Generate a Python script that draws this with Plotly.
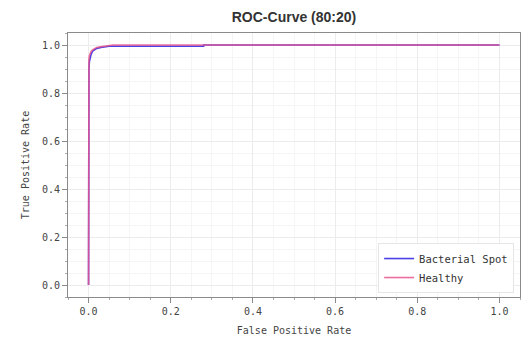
import plotly.graph_objects as go

bs_fpr = [0.0, 0.0, 0.0, 0.001, 0.002, 0.004, 0.006, 0.01, 0.015, 0.02, 0.03, 0.04, 0.05, 0.17, 0.28, 0.28, 1.0]
bs_tpr = [0.0, 0.73, 0.84, 0.90, 0.93, 0.95, 0.96, 0.975, 0.982, 0.986, 0.99, 0.993, 0.995, 0.995, 0.995, 1.0, 1.0]
h_fpr = [0.0, 0.0, 0.0, 0.001, 0.002, 0.004, 0.006, 0.01, 0.015, 0.02, 0.03, 0.04, 0.05, 0.06, 1.0]
h_tpr = [0.0, 0.80, 0.90, 0.94, 0.955, 0.965, 0.972, 0.98, 0.985, 0.99, 0.993, 0.996, 0.998, 1.0, 1.0]

mono = "DejaVu Sans Mono"
W, H = 521, 330
fig = go.Figure()
fig.add_trace(go.Scatter(x=bs_fpr, y=bs_tpr, mode="lines", name="Bacterial Spot",
                         line=dict(color="#2a1fe0", width=1.6), opacity=0.85))
fig.add_trace(go.Scatter(x=h_fpr, y=h_tpr, mode="lines", name="Healthy",
                         line=dict(color="#e8558f", width=1.6), opacity=0.85))

axis_common = dict(
    showline=True, linecolor="#8a8a8a", linewidth=1, mirror=True,
    ticks="outside", ticklen=5, tickcolor="#8a8a8a",
    showgrid=True, gridcolor="#ececec", gridwidth=1,
    zeroline=False, automargin=False,
    minor=dict(showgrid=True, gridcolor="#f5f5f5", ticks="outside", ticklen=2, tickcolor="#aaaaaa", dtick=0.05),
    tickfont=dict(family=mono, size=10, color="#444"),
    range=[-0.05, 1.05], dtick=0.2, tick0=0, tickformat=".1f",
)
fig.update_xaxes(**axis_common, title=dict(text="False Positive Rate", font=dict(family=mono, size=10, color="#444"), standoff=10))
fig.update_yaxes(**axis_common, title=dict(text="True Positive Rate", font=dict(family=mono, size=10, color="#444"), standoff=10))

fig.update_layout(
    width=W, height=H,
    margin=dict(l=60, r=9, t=25, b=41),
    plot_bgcolor="white", paper_bgcolor="white",
    title=dict(text="<b>ROC-Curve (80:20)</b>", x=0.5, xref="paper", xanchor="center",
               y=1 - 9 / H, yanchor="middle", yref="container", automargin=False,
               font=dict(family="Liberation Sans, Arial", size=14, color="#333")),
    legend=dict(x=0.987, y=0.015, xanchor="right", yanchor="bottom",
                bgcolor="white", bordercolor="#e6e6e6", borderwidth=1,
                tracegroupgap=0, itemwidth=30,
                font=dict(family=mono, size=10.5, color="#333")),
)
fig.write_html("out.html")
